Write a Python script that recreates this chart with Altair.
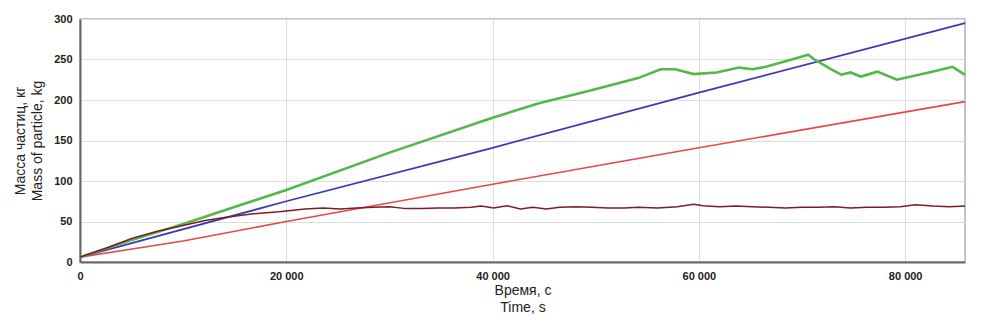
import altair as alt
import pandas as pd

# Blue series
T_BLUE = [0, 20000, 40000, 60000, 85800]
M_BLUE = [6, 75, 141, 209, 295]

# Red series
T_RED = [0, 10000, 20000, 40000, 60000, 85800]
M_RED = [6, 26, 50, 96, 141, 198]

# Green series
T_GREEN = [0, 5000, 10000, 20000, 30000, 40000, 44500, 49300, 54100, 56300, 57700,
           59500, 61700, 63900, 65200, 66500, 69000, 70600, 71200, 72800, 73800,
           74700, 75700, 77300, 79200, 82300, 84600, 85800]
M_GREEN = [6, 27, 47, 89, 135, 178, 196, 211, 227, 238, 238,
           232, 234, 240, 238, 241, 250, 256, 250, 238, 231.3,
           234, 229, 235, 225, 234, 241, 231]

# Dark red series
T_DARK = [0, 2500, 5000, 7500, 10000, 12000, 14000, 16800, 19300, 21800, 23600,
          25200, 26800, 28400, 30000, 31600, 33100, 34700, 36300, 37900, 38900,
          40100, 41400, 42700, 43900, 45200, 46500, 48100, 49600, 51200, 52800,
          54100, 56000, 57900, 59500, 60400, 62000, 63600, 65200, 66800, 68400,
          70000, 71600, 73100, 74700, 76300, 77900, 79500, 81000, 82700, 84300, 85800]
M_DARK = [6, 17, 29, 38, 45, 51, 55, 59.5, 62, 65.5, 66.7,
          65.5, 66.7, 67.5, 68.3, 65.9, 66.2, 66.7, 66.7, 67.5, 69.0,
          66.7, 69.4, 65.5, 67.5, 65.5, 67.5, 68.3, 67.5, 66.7, 66.7,
          67.5, 66.7, 68.3, 71.4, 69.4, 68.3, 69.0, 68.3, 67.5, 66.7,
          67.5, 67.5, 68.3, 66.7, 67.5, 67.5, 68.3, 70.6, 69.0, 68.3, 69.0]

X_TICKS = [0, 20000, 40000, 60000, 80000]
Y_TICKS = [0, 50, 100, 150, 200, 250, 300]

FONT = "Liberation Sans"

x_enc = alt.X(
    "t:Q",
    scale=alt.Scale(domain=[0, 85800], nice=False, zero=False),
    axis=alt.Axis(
        values=X_TICKS,
        labelExpr="replace(format(datum.value, ','), ',', ' ')",
        title=["Время, с", "Time, s"],
        labelFlush=False,
        grid=True,
    ),
)
y_enc = alt.Y(
    "m:Q",
    scale=alt.Scale(domain=[0, 300], nice=False),
    axis=alt.Axis(values=Y_TICKS, title=["Масса частиц, кг", "Mass of particle, kg"], grid=True),
)


def layer(ts, ms, color, width):
    df = pd.DataFrame({"t": ts, "m": ms})
    return alt.Chart(df).mark_line(color=color, strokeWidth=width, interpolate="linear").encode(
        x=x_enc, y=y_enc
    )


chart = alt.layer(
    layer(T_RED, M_RED, "#e8474a", 1.6),
    layer(T_BLUE, M_BLUE, "#3a3ab4", 1.8),
    layer(T_GREEN, M_GREEN, "#52b848", 2.6),
    layer(T_DARK, M_DARK, "#7d1c22", 1.5),
).properties(
    width=968, height=311, autosize=alt.AutoSizeParams(type="fit", contains="padding")
).configure_view(
    stroke="#b0b0b0", strokeWidth=1.5
).configure_axis(
    labelFont=FONT,
    labelFontWeight="bold",
    labelFontSize=11,
    labelColor="#222",
    titleFont=FONT,
    titleFontWeight="normal",
    titleFontSize=14,
    titleColor="#222",
    titleLineHeight=17,
    gridColor="#dddddd",
    gridWidth=1,
    domainColor="#666666",
    domainWidth=2,
    ticks=False,
).configure_axisX(
    labelPadding=8, titlePadding=2
).configure_axisY(
    labelPadding=8, titlePadding=9
)

chart.save("out.html", embed_options={"renderer": "svg", "actions": False})
